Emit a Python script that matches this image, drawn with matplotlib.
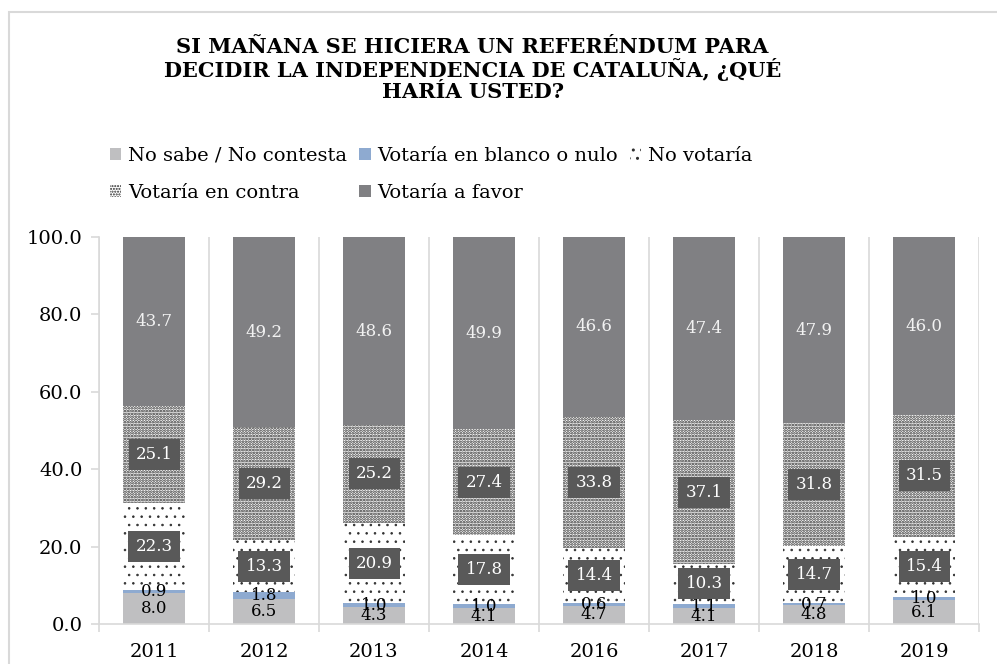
import matplotlib.pyplot as plt
import matplotlib.patches as mpatches
import matplotlib.ticker as ticker
import numpy as np

# ========== Data ==========
years = ['2011', '2012', '2013', '2014', '2016', '2017', '2018', '2019']
no_sabe = [8.0, 6.5, 4.3, 4.1, 4.7, 4.1, 4.8, 6.1]
blanco = [0.9, 1.8, 1.0, 1.0, 0.6, 1.1, 0.7, 1.0]
no_votaria = [22.3, 13.3, 20.9, 17.8, 14.4, 10.3, 14.7, 15.4]
en_contra = [25.1, 29.2, 25.2, 27.4, 33.8, 37.1, 31.8, 31.5]
a_favor = [43.7, 49.2, 48.6, 49.9, 46.6, 47.4, 47.9, 46.0]

title = ('SI MAÑANA SE HICIERA UN REFERÉNDUM PARA\n'
         'DECIDIR LA INDEPENDENCIA DE CATALUÑA, ¿QUÉ\n'
         'HARÍA USTED?')

# ========== Style ==========
plt.rcParams.update({
    'font.family': 'DejaVu Serif',
    'font.size': 12,
})

GRID = '#d9d9d9'
BOX = '#595959'

fig = plt.figure(figsize=(9.97, 6.64), dpi=100)
ax = fig.add_axes([99 / 997, 1 - 624 / 664, 880 / 997, 387 / 664])

x = np.arange(len(years))
w = 0.56
bottom = np.zeros(len(years))

# (values, label, style, hatch linewidth)
series = [
    (no_sabe, 'No sabe / No contesta', dict(color='#bfbfc1'), 1.0),
    (blanco, 'Votaría en blanco o nulo', dict(color='#8eaad0'), 1.0),
    (no_votaria, 'No votaría', dict(facecolor='white', edgecolor='#303030', hatch='..'), 0.6),
    (en_contra, 'Votaría en contra', dict(facecolor='white', edgecolor='#2a2a2a', hatch='......'), 1.3),
    (a_favor, 'Votaría a favor', dict(color='#808083'), 1.0),
]

handles = []
for i, (vals, label, style, hlw) in enumerate(series):
    plt.rcParams['hatch.linewidth'] = hlw
    bars = ax.bar(x, vals, w, bottom=bottom, label=label, linewidth=0, **style)
    for p in bars:
        if hasattr(p, 'set_hatch_linewidth'):
            p.set_hatch_linewidth(hlw)
    handles.append(bars)
    labels = [f'{v:.1f}' for v in vals]
    if i in (0, 1):
        ax.bar_label(bars, labels=labels, label_type='center', fontsize=12, color='black')
    elif i in (2, 3):
        ax.bar_label(bars, labels=labels, label_type='center', fontsize=12, color='white',
                     bbox=dict(boxstyle='square,pad=0.42', facecolor=BOX, edgecolor='none'))
    else:
        ax.bar_label(bars, labels=labels, label_type='center', fontsize=12, color='#f2f2f2')
    bottom += np.array(vals)

# ========== Axes ==========
ax.set_xlim(-0.5, len(years) - 0.5)
ax.set_ylim(0, 100)
ax.yaxis.set_major_locator(ticker.MultipleLocator(20))
ax.yaxis.set_major_formatter(ticker.FormatStrFormatter('%.1f'))
ax.set_xticks(x)
ax.set_xticklabels(years)
ax.set_xticks(np.arange(len(years) + 1) - 0.5, minor=True)
ax.tick_params(axis='x', which='major', length=0, pad=14, labelsize=14)
ax.tick_params(axis='x', which='minor', length=6, color=GRID, width=1.2)
ax.tick_params(axis='y', length=6, color=GRID, width=1.2, pad=6, labelsize=14)
ax.grid(True, axis='x', which='minor', color=GRID, linewidth=1.2)
ax.set_axisbelow(True)
for s in ('top', 'right'):
    ax.spines[s].set_visible(False)
for s in ('left', 'bottom'):
    ax.spines[s].set_color(GRID)
    ax.spines[s].set_linewidth(1.2)

# ========== Title and legend ==========
fig.text(0.474, 1 - 37 / 664, title, ha='center', va='top', fontsize=15,
         fontweight='bold', linespacing=1.07)

order = [0, 3, 1, 4, 2]
fig.legend([handles[i] for i in order], [series[i][1] for i in order],
           loc='upper left', bbox_to_anchor=(100 / 997, 1 - 137 / 664), ncol=3,
           frameon=False, fontsize=14, handlelength=0.6, handleheight=0.6,
           handletextpad=0.35, columnspacing=0.6, labelspacing=1.0, borderpad=0)

# chart area border (cut off at right and bottom)
fig.patches.append(mpatches.Rectangle((9 / 997, -0.1), 1.2, 1 - 12 / 664 + 0.1,
                                      transform=fig.transFigure, fill=False,
                                      edgecolor=GRID, linewidth=1.5))

fig.savefig('out.png', dpi=100)
